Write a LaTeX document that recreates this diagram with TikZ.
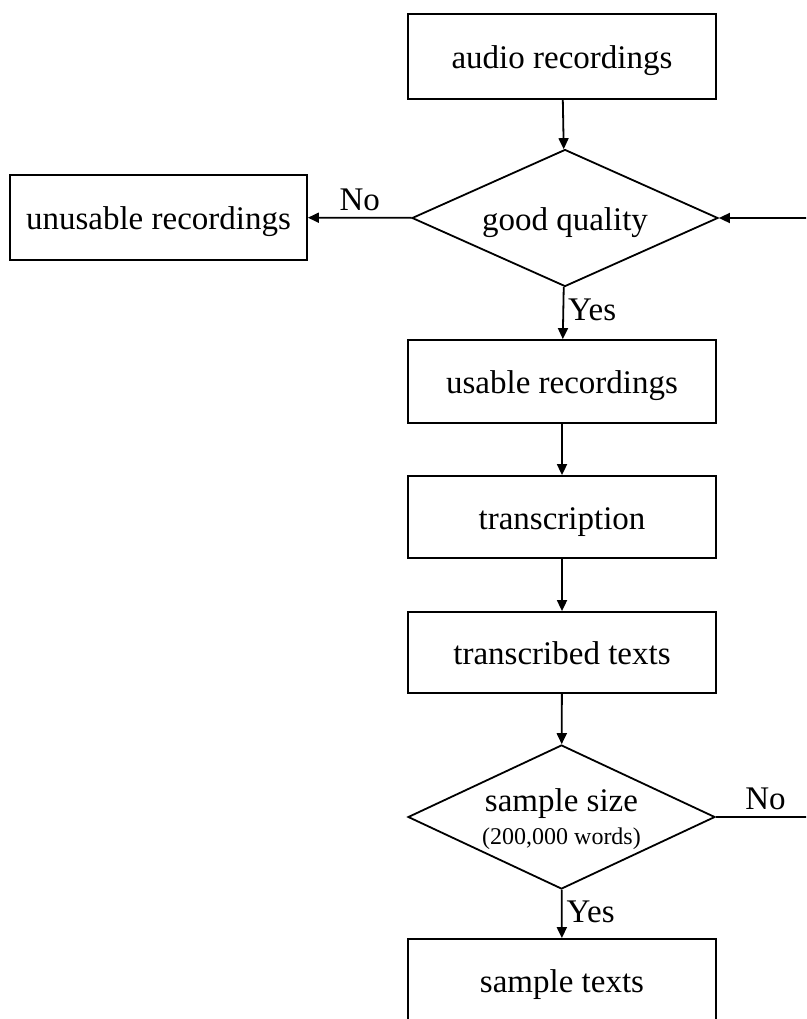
\documentclass[tikz,border=0pt]{standalone}
\usepackage{fontspec}
\setmainfont{Liberation Serif}
\usetikzlibrary{shapes.geometric,arrows.meta}
\begin{document}
\begin{tikzpicture}[x=1pt,y=-1pt,
  every node/.style={font=\fontsize{33}{37}\selectfont},
  box/.style={draw,line width=1.8pt,rectangle,minimum width=308pt,inner sep=0pt,text height=24pt,text depth=0pt},
  dec/.style={draw,line width=1.8pt,diamond,inner sep=0pt,aspect=2.2},
  lbl/.style={inner sep=0pt},
  conn/.style={line width=1.8pt},
  arr/.style={conn,-{Triangle[length=11pt,width=10pt]}}]
\useasboundingbox (0,0) rectangle (806,1019);
\clip (0,0) rectangle (806,1019);
\fill[white] (0,0) rectangle (806,1019);
\node[box,minimum height=85pt] (audio) at (562,56.5) {audio recordings};
\node[dec,minimum width=306pt,minimum height=137pt,text height=24pt,text depth=0pt] (gq) at (565,218) {good quality};
\node[box,minimum width=297pt,minimum height=85pt] (unus) at (158.5,217.5) {unusable recordings};
\node[box,minimum height=83pt] (usable) at (562,381.5) {usable recordings};
\node[box,minimum height=82pt] (trans) at (562,517) {transcription};
\node[box,minimum height=81pt] (texts) at (562,652.5) {transcribed texts};
\node[dec,minimum width=307pt,minimum height=144pt,align=center,text depth=0pt] (ss) at (561.5,817)
  {sample size\\[-4pt]{\fontsize{24}{28}\selectfont (200,000 words)}};
\node[box,minimum height=83pt] (sample) at (562,980.5) {sample texts};
\coordinate (loop) at (840,817);
\draw[arr] (audio) -- (gq);
\draw[arr] (gq) -- node[lbl,pos=0.5,above=6pt] {No} (unus);
\draw[arr] (gq) -- node[lbl,right=4pt,pos=0.45] {Yes} (usable);
\draw[arr] (usable) -- (trans);
\draw[arr] (trans) -- (texts);
\draw[arr] (texts) -- (ss);
\draw[arr] (ss) -- node[lbl,right=4pt,pos=0.45] {Yes} (sample);
\draw[arr] (ss.east) -- node[lbl,above=6pt,pos=0.4] {No} (loop) |- (gq.east);
\end{tikzpicture}
\end{document}
